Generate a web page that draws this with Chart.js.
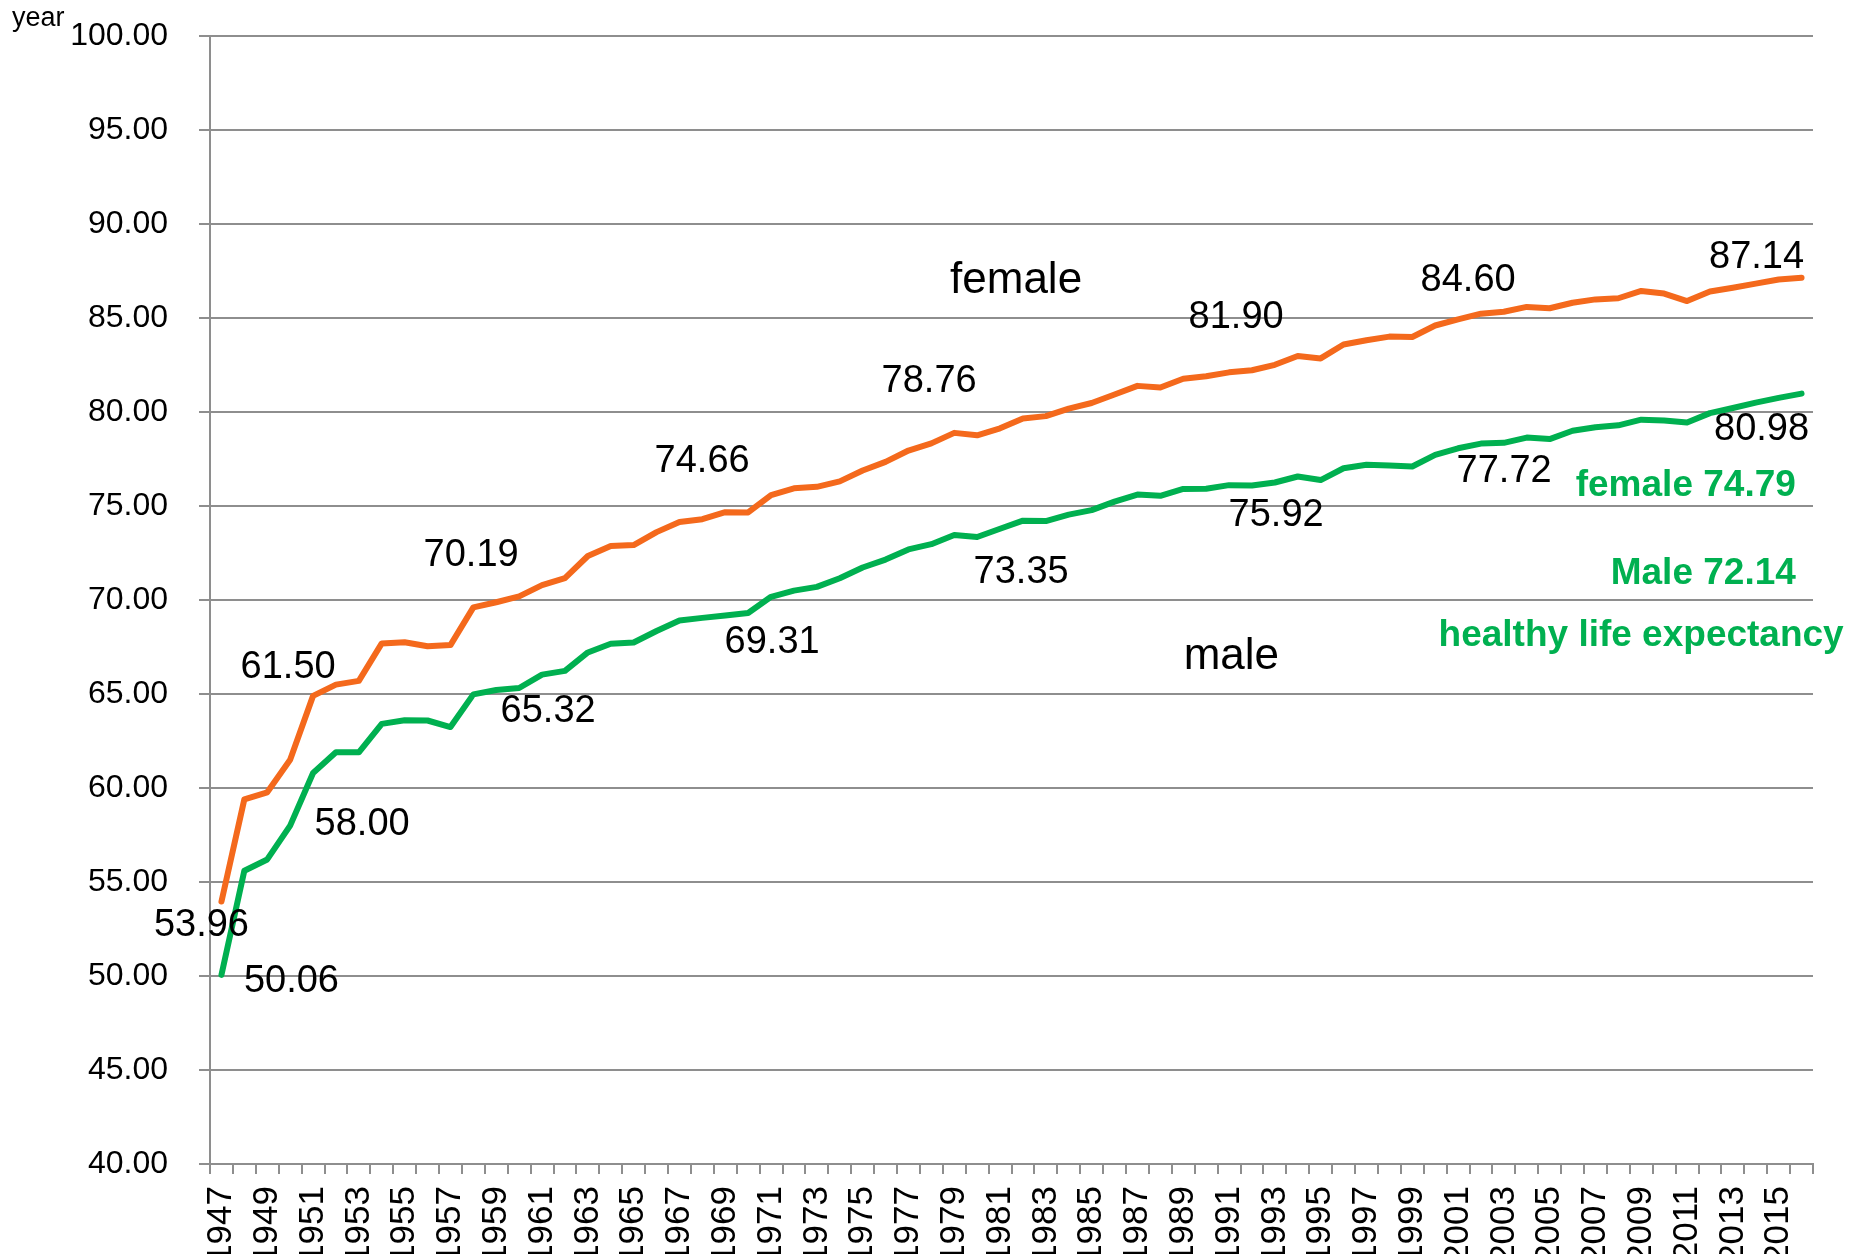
<!DOCTYPE html>
<html lang="en">
<head>
  <meta charset="UTF-8" />
  <title>Life expectancy</title>
  <script src="https://cdn.jsdelivr.net/npm/chart.js"></script>
  <style>
    body { margin: 0; background: #fff; }
    canvas { display: block; }
  </style>
</head>
<body>
  <canvas id="lifeChart" width="1859" height="1254"></canvas>

  <script>
    const years = ['1947','1948','1949','1950','1951','1952','1953','1954','1955','1956',
                   '1957','1958','1959','1960','1961','1962','1963','1964','1965','1966',
                   '1967','1968','1969','1970','1971','1972','1973','1974','1975','1976',
                   '1977','1978','1979','1980','1981','1982','1983','1984','1985','1986',
                   '1987','1988','1989','1990','1991','1992','1993','1994','1995','1996',
                   '1997','1998','1999','2000','2001','2002','2003','2004','2005','2006',
                   '2007','2008','2009','2010','2011','2012','2013','2014','2015','2016'];

    const female = [53.96, 59.40, 59.77, 61.50, 64.90, 65.50, 65.70, 67.69, 67.75, 67.54,
                    67.60, 69.61, 69.88, 70.19, 70.79, 71.16, 72.34, 72.87, 72.92, 73.61,
                    74.15, 74.30, 74.67, 74.66, 75.58, 75.94, 76.02, 76.31, 76.89, 77.35,
                    77.95, 78.33, 78.89, 78.76, 79.13, 79.66, 79.78, 80.18, 80.48, 80.93,
                    81.39, 81.30, 81.77, 81.90, 82.11, 82.22, 82.51, 82.98, 82.85, 83.59,
                    83.82, 84.01, 83.99, 84.60, 84.93, 85.23, 85.33, 85.59, 85.52, 85.81,
                    85.99, 86.05, 86.44, 86.30, 85.90, 86.41, 86.61, 86.83, 87.05, 87.14];

    const male = [50.06, 55.60, 56.20, 58.00, 60.80, 61.90, 61.90, 63.41, 63.60, 63.59,
                  63.24, 64.98, 65.21, 65.32, 66.03, 66.23, 67.21, 67.67, 67.74, 68.35,
                  68.91, 69.05, 69.18, 69.31, 70.17, 70.50, 70.70, 71.16, 71.73, 72.15,
                  72.69, 72.97, 73.46, 73.35, 73.79, 74.22, 74.20, 74.54, 74.78, 75.23,
                  75.61, 75.54, 75.91, 75.92, 76.11, 76.09, 76.25, 76.57, 76.38, 77.01,
                  77.19, 77.16, 77.10, 77.72, 78.07, 78.32, 78.36, 78.64, 78.56, 79.00,
                  79.19, 79.29, 79.59, 79.55, 79.44, 79.94, 80.21, 80.50, 80.75, 80.98];

    // which points get a value label (dataset, index) and where the text sits from the point
    const valueLabels = [
      { ds: 0, i: 0,  dx: -20, dy: 24 },
      { ds: 0, i: 3,  dx: -2,  dy: -92 },
      { ds: 0, i: 13, dx: -48, dy: -41 },
      { ds: 0, i: 23, dx: -46, dy: -51 },
      { ds: 0, i: 33, dx: -48, dy: -54 },
      { ds: 0, i: 43, dx: 30,  dy: -59 },
      { ds: 0, i: 53, dx: 33,  dy: -45 },
      { ds: 0, i: 69, dx: -45, dy: -20 },
      { ds: 1, i: 0,  dx: 70,  dy: 7 },
      { ds: 1, i: 3,  dx: 72,  dy: -1 },
      { ds: 1, i: 13, dx: 29,  dy: 24 },
      { ds: 1, i: 23, dx: 24,  dy: 30 },
      { ds: 1, i: 33, dx: 44,  dy: 35 },
      { ds: 1, i: 43, dx: 70,  dy: 27 },
      { ds: 1, i: 53, dx: 69,  dy: 17 },
      { ds: 1, i: 69, dx: -40, dy: 36 }
    ];

    // free text, placed in data space (category index, value)
    const notes = [
      { text: 'female', x: 34.7, y: 87.0, font: '44px "Liberation Sans", Arial', color: '#000', align: 'center' },
      { text: 'male', x: 44.1, y: 66.95, font: '44px "Liberation Sans", Arial', color: '#000', align: 'center' },
      { text: 'female 74.79', x: 68.75, y: 76.07, font: 'bold 37px "Liberation Sans", Arial', color: '#00B050', align: 'right' },
      { text: 'Male 72.14', x: 68.75, y: 71.41, font: 'bold 37px "Liberation Sans", Arial', color: '#00B050', align: 'right' },
      { text: 'healthy life expectancy', x: 70.84, y: 68.12, font: 'bold 37px "Liberation Sans", Arial', color: '#00B050', align: 'right' }
    ];

    const textPlugin = {
      id: 'textPlugin',
      afterDatasetsDraw(chart) {
        const ctx = chart.ctx;
        const xs = chart.scales.x, ys = chart.scales.y;
        ctx.save();
        ctx.textBaseline = 'middle';

        ctx.font = '38px "Liberation Sans", Arial';
        ctx.fillStyle = '#000';
        ctx.textAlign = 'center';
        valueLabels.forEach(l => {
          const pt = chart.getDatasetMeta(l.ds).data[l.i];
          const v = chart.data.datasets[l.ds].data[l.i];
          ctx.fillText(v.toFixed(2), pt.x + l.dx, pt.y + l.dy);
        });

        notes.forEach(n => {
          ctx.font = n.font;
          ctx.fillStyle = n.color;
          ctx.textAlign = n.align;
          ctx.fillText(n.text, xs.getPixelForValue(n.x), ys.getPixelForValue(n.y));
        });

        ctx.font = '27px "Liberation Sans", Arial';
        ctx.fillStyle = '#000';
        ctx.textAlign = 'left';
        ctx.textBaseline = 'alphabetic';
        ctx.fillText('year', 12, 26);
        ctx.restore();
      }
    };

    const ctx = document.getElementById('lifeChart').getContext('2d');
    new Chart(ctx, {
      type: 'line',
      data: {
        labels: years,
        datasets: [
          {
            label: 'female',
            data: female,
            borderColor: '#F4691C',
            borderWidth: 6,
            pointRadius: 0,
            tension: 0,
            borderCapStyle: 'round',
            borderJoinStyle: 'round'
          },
          {
            label: 'male',
            data: male,
            borderColor: '#00B050',
            borderWidth: 6,
            pointRadius: 0,
            tension: 0,
            borderCapStyle: 'round',
            borderJoinStyle: 'round'
          }
        ]
      },
      options: {
        responsive: false,
        animation: false,
        layout: { padding: { top: 36, right: 46, left: 0, bottom: 0 } },
        plugins: {
          legend: { display: false },
          tooltip: { enabled: false }
        },
        scales: {
          x: {
            offset: true,
            grid: {
              offset: true,
              drawOnChartArea: false,
              drawTicks: true,
              tickLength: 10,
              color: '#8e8e8e',
              lineWidth: 2
            },
            border: { color: '#8e8e8e', width: 2 },
            ticks: {
              autoSkip: false,
              minRotation: 90,
              maxRotation: 90,
              padding: 12,
              color: '#000',
              font: { family: '"Liberation Sans", Arial', size: 35 },
              callback: function (val, index) {
                return index % 2 === 0 ? this.getLabelForValue(val) : '';
              }
            },
            afterFit: s => { s.height = 90; }
          },
          y: {
            min: 40,
            max: 100,
            grid: {
              color: '#8e8e8e',
              lineWidth: 2,
              tickLength: 11
            },
            border: { color: '#8e8e8e', width: 2 },
            ticks: {
              stepSize: 5,
              padding: 31,
              color: '#000',
              font: { family: '"Liberation Sans", Arial', size: 32 },
              callback: v => v.toFixed(2)
            },
            afterFit: s => {
              s.width = 210;
              s.paddingTop = 18;
              s.paddingBottom = 18;
            }
          }
        }
      },
      plugins: [textPlugin]
    });
  </script>
</body>
</html>
